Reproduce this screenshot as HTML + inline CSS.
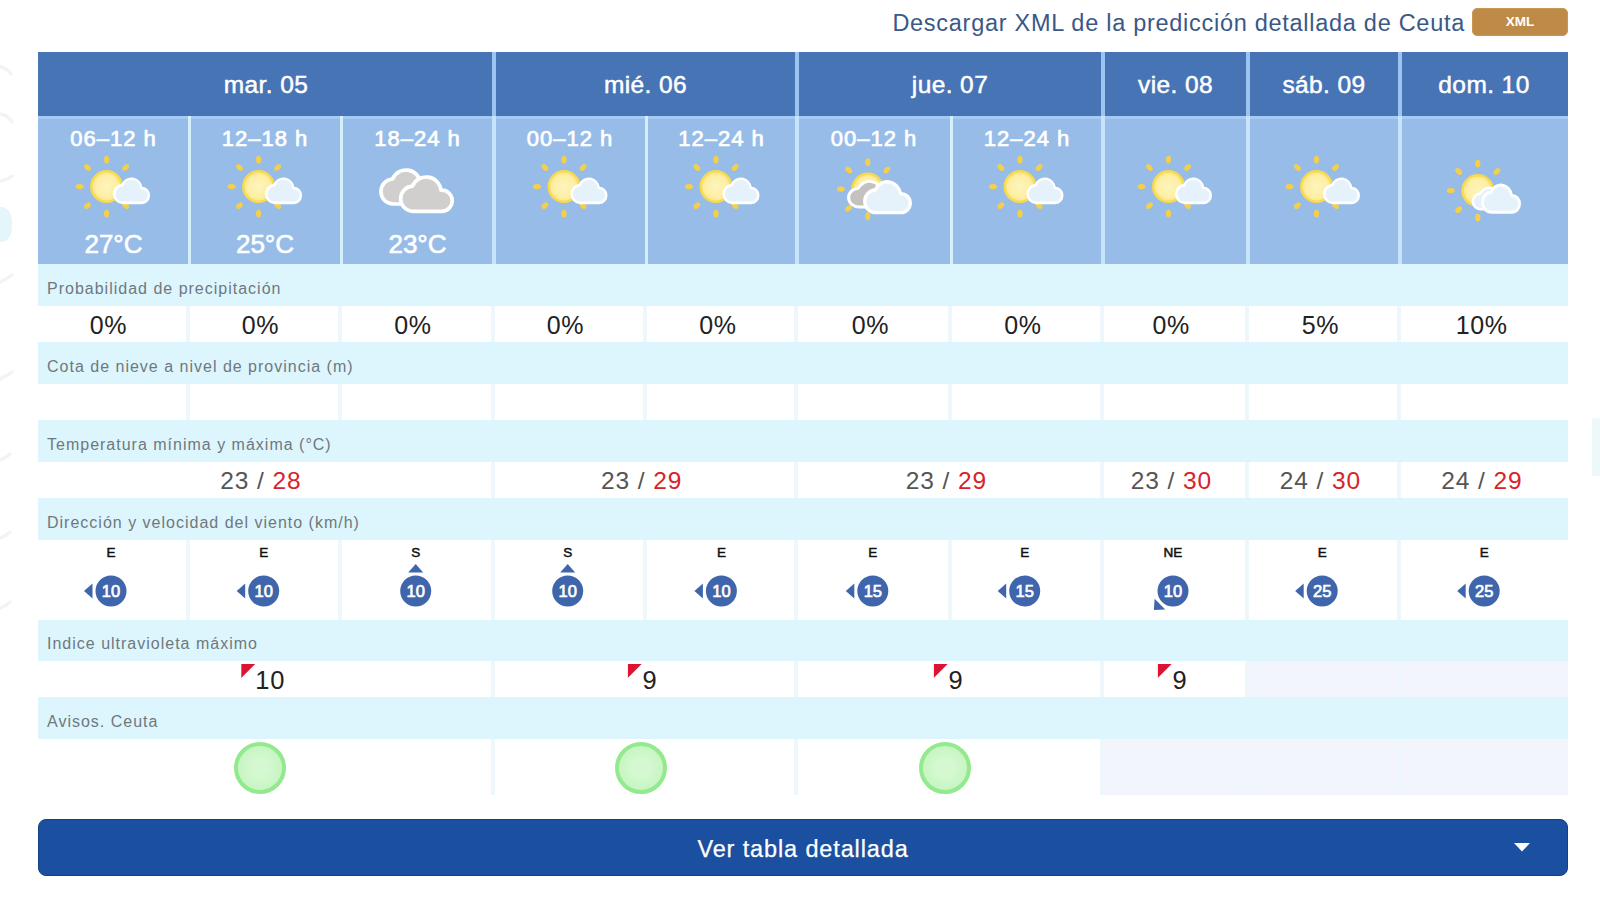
<!DOCTYPE html>
<html lang="es"><head><meta charset="utf-8"><title>Predicción Ceuta</title>
<style>
html,body{margin:0;padding:0;}
body{width:1600px;height:900px;position:relative;overflow:hidden;background:#fff;font-family:"Liberation Sans",sans-serif;}
.a{position:absolute;}
.lnk{right:135px;top:8px;font-size:23.5px;letter-spacing:.72px;color:#3a5888;white-space:nowrap;line-height:30px;}
.xml{left:1472px;top:8px;width:94px;height:26px;background:#bd8a48;border:1px solid #c9974f;border-radius:5px;color:#fff;font-size:13.5px;font-weight:bold;line-height:26px;text-align:center;}
.hd{background:#4774b5;color:#fff;font-size:24.5px;letter-spacing:.4px;-webkit-text-stroke:.5px #fff;text-align:center;top:52px;height:64px;line-height:66px;}
.pd{background:#97bce8;top:116px;height:148px;color:#fff;text-align:center;}
.pd .t{position:absolute;left:0;right:0;top:9px;font-size:22px;line-height:28px;letter-spacing:1px;-webkit-text-stroke:.7px #fff;}
.pd .c{position:absolute;left:0;right:0;top:112px;font-size:26px;line-height:32px;-webkit-text-stroke:.6px #fff;}
.pd svg{position:absolute;left:0;top:0;}
.lb{left:38px;width:1530px;background:#ddf6fe;color:#6f787d;font-size:16px;letter-spacing:1px;}
.lb span{position:absolute;left:9px;top:50%;margin-top:-6.3px;line-height:20px;white-space:nowrap;}
.v{background:#fff;text-align:center;color:#222;}
.g{background:#f3f5fc;}
.sep{background:#eef7fb;width:4px;}
.p{font-size:25px;line-height:39px;letter-spacing:.6px;}
.mm{font-size:24.5px;line-height:38px;color:#555;letter-spacing:.9px;}
.mm b{font-weight:normal;color:#d8232a;}
.wl{position:absolute;top:5px;font-size:13.5px;-webkit-text-stroke:.5px #111;line-height:16px;color:#111;text-align:center;}
.uv{font-size:25.5px;line-height:39px;letter-spacing:.9px;}
.btn{left:38px;top:819px;width:1528px;height:55px;background:#1b4f9f;border:1px solid #153f86;border-radius:8px;color:#fff;font-size:23.5px;letter-spacing:.87px;line-height:59px;text-align:center;-webkit-text-stroke:.25px #fff;}
</style></head><body>

<svg width="0" height="0" style="position:absolute"><defs><radialGradient id="sg"><stop offset="0" stop-color="#fef4bd"/><stop offset=".72" stop-color="#fdefa5"/><stop offset="1" stop-color="#fbe47c"/></radialGradient></defs></svg>
<svg class="a" style="left:0;top:0" width="40" height="900"><path d="M0 207C8 206 13 214 12 226C12 236 8 242 0 242Z" fill="#e0f5f9" opacity=".85"/><g stroke="#f1f4f6" stroke-width="3.5" fill="none" stroke-linecap="round"><path d="M0 67Q7 68 11 74"/><path d="M0 114Q8 115 12 122"/><path d="M0 181Q7 180 12 176"/><path d="M0 282Q7 279 12 275"/><path d="M0 379Q7 376 12 372"/><path d="M0 460Q6 458 10 454"/><path d="M0 538Q6 536 10 532"/><path d="M0 608Q6 606 10 602"/></g></svg>
<div class="a" style="left:1592px;top:418px;width:8px;height:58px;background:#edf8fb;border-radius:3px 0 0 3px"></div>
<div class="a lnk">Descargar XML de la predicción detallada de Ceuta</div>
<div class="a xml">XML</div>
<div class="a hd" style="left:38px;width:456px">mar. 05</div>
<div class="a hd" style="left:494px;width:303px">mié. 06</div>
<div class="a hd" style="left:797px;width:306px">jue. 07</div>
<div class="a hd" style="left:1103px;width:145px">vie. 08</div>
<div class="a hd" style="left:1248px;width:152px">sáb. 09</div>
<div class="a hd" style="left:1400px;width:168px">dom. 10</div>
<div class="a pd" style="left:38px;width:151px">
<div class="t">06–12 h</div>
<svg width="151" height="148" viewBox="0 0 151 148"><g transform="translate(68.6 70.6)"><g fill="#f6cf48"><ellipse cx="0" cy="-27" rx="2.6" ry="3.9" transform="rotate(0)"/><ellipse cx="0" cy="-27" rx="2.6" ry="3.9" transform="rotate(45)"/><ellipse cx="0" cy="-27" rx="2.6" ry="3.9" transform="rotate(90)"/><ellipse cx="0" cy="-27" rx="2.6" ry="3.9" transform="rotate(135)"/><ellipse cx="0" cy="-27" rx="2.6" ry="3.9" transform="rotate(180)"/><ellipse cx="0" cy="-27" rx="2.6" ry="3.9" transform="rotate(225)"/><ellipse cx="0" cy="-27" rx="2.6" ry="3.9" transform="rotate(270)"/><ellipse cx="0" cy="-27" rx="2.6" ry="3.9" transform="rotate(315)"/></g><circle r="15.3" fill="url(#sg)" stroke="#f8d950" stroke-width="2.4"/></g><path transform="translate(75.0 61.3) scale(0.670 0.711)" d="M14.5 36H43.0A10.5 10.5 0 1 0 42.37 15.02A15 15 0 0 0 13.74 11.02A12.5 12.5 0 0 0 14.5 36Z" fill="#e6f2fb" stroke="#fff" stroke-width="3.7" stroke-linejoin="round"/></svg>
<div class="c">27°C</div>
</div>
<div class="a pd" style="left:189px;width:152px">
<div class="t">12–18 h</div>
<svg width="152" height="148" viewBox="0 0 152 148"><g transform="translate(69.6 70.6)"><g fill="#f6cf48"><ellipse cx="0" cy="-27" rx="2.6" ry="3.9" transform="rotate(0)"/><ellipse cx="0" cy="-27" rx="2.6" ry="3.9" transform="rotate(45)"/><ellipse cx="0" cy="-27" rx="2.6" ry="3.9" transform="rotate(90)"/><ellipse cx="0" cy="-27" rx="2.6" ry="3.9" transform="rotate(135)"/><ellipse cx="0" cy="-27" rx="2.6" ry="3.9" transform="rotate(180)"/><ellipse cx="0" cy="-27" rx="2.6" ry="3.9" transform="rotate(225)"/><ellipse cx="0" cy="-27" rx="2.6" ry="3.9" transform="rotate(270)"/><ellipse cx="0" cy="-27" rx="2.6" ry="3.9" transform="rotate(315)"/></g><circle r="15.3" fill="url(#sg)" stroke="#f8d950" stroke-width="2.4"/></g><path transform="translate(76.0 61.3) scale(0.670 0.711)" d="M14.5 36H43.0A10.5 10.5 0 1 0 42.37 15.02A15 15 0 0 0 13.74 11.02A12.5 12.5 0 0 0 14.5 36Z" fill="#e6f2fb" stroke="#fff" stroke-width="3.7" stroke-linejoin="round"/></svg>
<div class="c">25°C</div>
</div>
<div class="a pd" style="left:341px;width:153px">
<div class="t">18–24 h</div>
<svg width="153" height="148" viewBox="0 0 153 148"><path transform="translate(38.0 52.0) scale(0.982 1.000)" d="M14.5 36H43.0A10.5 10.5 0 1 0 42.37 15.02A15 15 0 0 0 13.74 11.02A12.5 12.5 0 0 0 14.5 36Z" fill="#d0cfcd" stroke="#fff" stroke-width="3.7" stroke-linejoin="round"/><path transform="translate(57.7 59.0) scale(1.000 1.008)" d="M14.5 36H43.0A10.5 10.5 0 1 0 42.37 15.02A15 15 0 0 0 13.74 11.02A12.5 12.5 0 0 0 14.5 36Z" fill="#d0cfcd" stroke="#fff" stroke-width="3.7" stroke-linejoin="round"/></svg>
<div class="c">23°C</div>
</div>
<div class="a pd" style="left:494px;width:152px">
<div class="t">00–12 h</div>
<svg width="152" height="148" viewBox="0 0 152 148"><g transform="translate(70.0 70.6)"><g fill="#f6cf48"><ellipse cx="0" cy="-27" rx="2.6" ry="3.9" transform="rotate(0)"/><ellipse cx="0" cy="-27" rx="2.6" ry="3.9" transform="rotate(45)"/><ellipse cx="0" cy="-27" rx="2.6" ry="3.9" transform="rotate(90)"/><ellipse cx="0" cy="-27" rx="2.6" ry="3.9" transform="rotate(135)"/><ellipse cx="0" cy="-27" rx="2.6" ry="3.9" transform="rotate(180)"/><ellipse cx="0" cy="-27" rx="2.6" ry="3.9" transform="rotate(225)"/><ellipse cx="0" cy="-27" rx="2.6" ry="3.9" transform="rotate(270)"/><ellipse cx="0" cy="-27" rx="2.6" ry="3.9" transform="rotate(315)"/></g><circle r="15.3" fill="url(#sg)" stroke="#f8d950" stroke-width="2.4"/></g><path transform="translate(76.4 61.3) scale(0.670 0.711)" d="M14.5 36H43.0A10.5 10.5 0 1 0 42.37 15.02A15 15 0 0 0 13.74 11.02A12.5 12.5 0 0 0 14.5 36Z" fill="#e6f2fb" stroke="#fff" stroke-width="3.7" stroke-linejoin="round"/></svg>
</div>
<div class="a pd" style="left:646px;width:151px">
<div class="t">12–24 h</div>
<svg width="151" height="148" viewBox="0 0 151 148"><g transform="translate(70.0 70.6)"><g fill="#f6cf48"><ellipse cx="0" cy="-27" rx="2.6" ry="3.9" transform="rotate(0)"/><ellipse cx="0" cy="-27" rx="2.6" ry="3.9" transform="rotate(45)"/><ellipse cx="0" cy="-27" rx="2.6" ry="3.9" transform="rotate(90)"/><ellipse cx="0" cy="-27" rx="2.6" ry="3.9" transform="rotate(135)"/><ellipse cx="0" cy="-27" rx="2.6" ry="3.9" transform="rotate(180)"/><ellipse cx="0" cy="-27" rx="2.6" ry="3.9" transform="rotate(225)"/><ellipse cx="0" cy="-27" rx="2.6" ry="3.9" transform="rotate(270)"/><ellipse cx="0" cy="-27" rx="2.6" ry="3.9" transform="rotate(315)"/></g><circle r="15.3" fill="url(#sg)" stroke="#f8d950" stroke-width="2.4"/></g><path transform="translate(76.4 61.3) scale(0.670 0.711)" d="M14.5 36H43.0A10.5 10.5 0 1 0 42.37 15.02A15 15 0 0 0 13.74 11.02A12.5 12.5 0 0 0 14.5 36Z" fill="#e6f2fb" stroke="#fff" stroke-width="3.7" stroke-linejoin="round"/></svg>
</div>
<div class="a pd" style="left:797px;width:154px">
<div class="t">00–12 h</div>
<svg width="154" height="148" viewBox="0 0 154 148"><g transform="translate(70.8 73.1)"><g fill="#f6cf48"><ellipse cx="0" cy="-27" rx="2.6" ry="3.9" transform="rotate(0)"/><ellipse cx="0" cy="-27" rx="2.6" ry="3.9" transform="rotate(45)"/><ellipse cx="0" cy="-27" rx="2.6" ry="3.9" transform="rotate(90)"/><ellipse cx="0" cy="-27" rx="2.6" ry="3.9" transform="rotate(135)"/><ellipse cx="0" cy="-27" rx="2.6" ry="3.9" transform="rotate(180)"/><ellipse cx="0" cy="-27" rx="2.6" ry="3.9" transform="rotate(225)"/><ellipse cx="0" cy="-27" rx="2.6" ry="3.9" transform="rotate(270)"/><ellipse cx="0" cy="-27" rx="2.6" ry="3.9" transform="rotate(315)"/></g><circle r="15.3" fill="url(#sg)" stroke="#f8d950" stroke-width="2.4"/></g><path transform="translate(50.0 64.0) scale(0.821 0.750)" d="M14.5 36H43.0A10.5 10.5 0 1 0 42.37 15.02A15 15 0 0 0 13.74 11.02A12.5 12.5 0 0 0 14.5 36Z" fill="#c4c2c0" stroke="#fff" stroke-width="3.7" stroke-linejoin="round"/><path transform="translate(66.0 64.0) scale(0.884 0.908)" d="M14.5 36H43.0A10.5 10.5 0 1 0 42.37 15.02A15 15 0 0 0 13.74 11.02A12.5 12.5 0 0 0 14.5 36Z" fill="#e6f2fb" stroke="#fff" stroke-width="3.7" stroke-linejoin="round"/></svg>
</div>
<div class="a pd" style="left:951px;width:152px">
<div class="t">12–24 h</div>
<svg width="152" height="148" viewBox="0 0 152 148"><g transform="translate(69.0 70.6)"><g fill="#f6cf48"><ellipse cx="0" cy="-27" rx="2.6" ry="3.9" transform="rotate(0)"/><ellipse cx="0" cy="-27" rx="2.6" ry="3.9" transform="rotate(45)"/><ellipse cx="0" cy="-27" rx="2.6" ry="3.9" transform="rotate(90)"/><ellipse cx="0" cy="-27" rx="2.6" ry="3.9" transform="rotate(135)"/><ellipse cx="0" cy="-27" rx="2.6" ry="3.9" transform="rotate(180)"/><ellipse cx="0" cy="-27" rx="2.6" ry="3.9" transform="rotate(225)"/><ellipse cx="0" cy="-27" rx="2.6" ry="3.9" transform="rotate(270)"/><ellipse cx="0" cy="-27" rx="2.6" ry="3.9" transform="rotate(315)"/></g><circle r="15.3" fill="url(#sg)" stroke="#f8d950" stroke-width="2.4"/></g><path transform="translate(75.4 61.3) scale(0.670 0.711)" d="M14.5 36H43.0A10.5 10.5 0 1 0 42.37 15.02A15 15 0 0 0 13.74 11.02A12.5 12.5 0 0 0 14.5 36Z" fill="#e6f2fb" stroke="#fff" stroke-width="3.7" stroke-linejoin="round"/></svg>
</div>
<div class="a pd" style="left:1103px;width:145px">
<svg width="145" height="148" viewBox="0 0 145 148"><g transform="translate(65.5 70.6)"><g fill="#f6cf48"><ellipse cx="0" cy="-27" rx="2.6" ry="3.9" transform="rotate(0)"/><ellipse cx="0" cy="-27" rx="2.6" ry="3.9" transform="rotate(45)"/><ellipse cx="0" cy="-27" rx="2.6" ry="3.9" transform="rotate(90)"/><ellipse cx="0" cy="-27" rx="2.6" ry="3.9" transform="rotate(135)"/><ellipse cx="0" cy="-27" rx="2.6" ry="3.9" transform="rotate(180)"/><ellipse cx="0" cy="-27" rx="2.6" ry="3.9" transform="rotate(225)"/><ellipse cx="0" cy="-27" rx="2.6" ry="3.9" transform="rotate(270)"/><ellipse cx="0" cy="-27" rx="2.6" ry="3.9" transform="rotate(315)"/></g><circle r="15.3" fill="url(#sg)" stroke="#f8d950" stroke-width="2.4"/></g><path transform="translate(71.9 61.3) scale(0.670 0.711)" d="M14.5 36H43.0A10.5 10.5 0 1 0 42.37 15.02A15 15 0 0 0 13.74 11.02A12.5 12.5 0 0 0 14.5 36Z" fill="#e6f2fb" stroke="#fff" stroke-width="3.7" stroke-linejoin="round"/></svg>
</div>
<div class="a pd" style="left:1248px;width:152px">
<svg width="152" height="148" viewBox="0 0 152 148"><g transform="translate(68.5 70.6)"><g fill="#f6cf48"><ellipse cx="0" cy="-27" rx="2.6" ry="3.9" transform="rotate(0)"/><ellipse cx="0" cy="-27" rx="2.6" ry="3.9" transform="rotate(45)"/><ellipse cx="0" cy="-27" rx="2.6" ry="3.9" transform="rotate(90)"/><ellipse cx="0" cy="-27" rx="2.6" ry="3.9" transform="rotate(135)"/><ellipse cx="0" cy="-27" rx="2.6" ry="3.9" transform="rotate(180)"/><ellipse cx="0" cy="-27" rx="2.6" ry="3.9" transform="rotate(225)"/><ellipse cx="0" cy="-27" rx="2.6" ry="3.9" transform="rotate(270)"/><ellipse cx="0" cy="-27" rx="2.6" ry="3.9" transform="rotate(315)"/></g><circle r="15.3" fill="url(#sg)" stroke="#f8d950" stroke-width="2.4"/></g><path transform="translate(74.9 61.3) scale(0.670 0.711)" d="M14.5 36H43.0A10.5 10.5 0 1 0 42.37 15.02A15 15 0 0 0 13.74 11.02A12.5 12.5 0 0 0 14.5 36Z" fill="#e6f2fb" stroke="#fff" stroke-width="3.7" stroke-linejoin="round"/></svg>
</div>
<div class="a pd" style="left:1400px;width:168px">
<svg width="168" height="148" viewBox="0 0 168 148"><g transform="translate(77.8 74.6)"><g fill="#f6cf48"><ellipse cx="0" cy="-27" rx="2.6" ry="3.9" transform="rotate(0)"/><ellipse cx="0" cy="-27" rx="2.6" ry="3.9" transform="rotate(45)"/><ellipse cx="0" cy="-27" rx="2.6" ry="3.9" transform="rotate(90)"/><ellipse cx="0" cy="-27" rx="2.6" ry="3.9" transform="rotate(135)"/><ellipse cx="0" cy="-27" rx="2.6" ry="3.9" transform="rotate(180)"/><ellipse cx="0" cy="-27" rx="2.6" ry="3.9" transform="rotate(225)"/><ellipse cx="0" cy="-27" rx="2.6" ry="3.9" transform="rotate(270)"/><ellipse cx="0" cy="-27" rx="2.6" ry="3.9" transform="rotate(315)"/></g><circle r="15.3" fill="url(#sg)" stroke="#f8d950" stroke-width="2.4"/></g><path transform="translate(71.5 70.5) scale(0.661 0.632)" d="M14.5 36H43.0A10.5 10.5 0 1 0 42.37 15.02A15 15 0 0 0 13.74 11.02A12.5 12.5 0 0 0 14.5 36Z" fill="#e6f2fb" stroke="#fff" stroke-width="3.7" stroke-linejoin="round"/><path transform="translate(81.0 67.5) scale(0.723 0.797)" d="M14.5 36H43.0A10.5 10.5 0 1 0 42.37 15.02A15 15 0 0 0 13.74 11.02A12.5 12.5 0 0 0 14.5 36Z" fill="#e6f2fb" stroke="#fff" stroke-width="3.7" stroke-linejoin="round"/></svg>
</div>
<div class="a" style="left:38px;top:116px;width:1530px;height:3px;background:#a6caf6"></div>
<div class="a lb" style="top:264px;height:42px"><span>Probabilidad de precipitación</span></div>
<div class="a lb" style="top:342px;height:42px"><span>Cota de nieve a nivel de provincia (m)</span></div>
<div class="a lb" style="top:420px;height:42px"><span>Temperatura mínima y máxima (°C)</span></div>
<div class="a lb" style="top:498px;height:42px"><span>Dirección y velocidad del viento (km/h)</span></div>
<div class="a lb" style="top:620px;height:41px"><span>Indice ultravioleta máximo</span></div>
<div class="a lb" style="top:697px;height:42px"><span>Avisos. Ceuta</span></div>
<div class="a v p" style="left:38px;width:151px;top:306px;height:36px"><span class="a" style="left:70.40px;top:0;transform:translateX(-50%);white-space:nowrap">0%</span></div>
<div class="a v p" style="left:189px;width:152px;top:306px;height:36px"><span class="a" style="left:71.30px;top:0;transform:translateX(-50%);white-space:nowrap">0%</span></div>
<div class="a v p" style="left:341px;width:153px;top:306px;height:36px"><span class="a" style="left:71.80px;top:0;transform:translateX(-50%);white-space:nowrap">0%</span></div>
<div class="a v p" style="left:494px;width:152px;top:306px;height:36px"><span class="a" style="left:71.30px;top:0;transform:translateX(-50%);white-space:nowrap">0%</span></div>
<div class="a v p" style="left:646px;width:151px;top:306px;height:36px"><span class="a" style="left:71.80px;top:0;transform:translateX(-50%);white-space:nowrap">0%</span></div>
<div class="a v p" style="left:797px;width:154px;top:306px;height:36px"><span class="a" style="left:73.30px;top:0;transform:translateX(-50%);white-space:nowrap">0%</span></div>
<div class="a v p" style="left:951px;width:152px;top:306px;height:36px"><span class="a" style="left:71.80px;top:0;transform:translateX(-50%);white-space:nowrap">0%</span></div>
<div class="a v p" style="left:1103px;width:145px;top:306px;height:36px"><span class="a" style="left:68.05px;top:0;transform:translateX(-50%);white-space:nowrap">0%</span></div>
<div class="a v p" style="left:1248px;width:152px;top:306px;height:36px"><span class="a" style="left:72.30px;top:0;transform:translateX(-50%);white-space:nowrap">5%</span></div>
<div class="a v p" style="left:1400px;width:168px;top:306px;height:36px"><span class="a" style="left:81.55px;top:0;transform:translateX(-50%);white-space:nowrap">10%</span></div>
<div class="a v " style="left:38px;width:151px;top:384px;height:36px"></div>
<div class="a v " style="left:189px;width:152px;top:384px;height:36px"></div>
<div class="a v " style="left:341px;width:153px;top:384px;height:36px"></div>
<div class="a v " style="left:494px;width:152px;top:384px;height:36px"></div>
<div class="a v " style="left:646px;width:151px;top:384px;height:36px"></div>
<div class="a v " style="left:797px;width:154px;top:384px;height:36px"></div>
<div class="a v " style="left:951px;width:152px;top:384px;height:36px"></div>
<div class="a v " style="left:1103px;width:145px;top:384px;height:36px"></div>
<div class="a v " style="left:1248px;width:152px;top:384px;height:36px"></div>
<div class="a v " style="left:1400px;width:168px;top:384px;height:36px"></div>
<div class="a v mm" style="left:38px;width:456px;top:462px;height:36px"><span class="a" style="left:222.95px;top:0;transform:translateX(-50%);white-space:nowrap">23 / <b>28</b></span></div>
<div class="a v mm" style="left:494px;width:303px;top:462px;height:36px"><span class="a" style="left:147.70px;top:0;transform:translateX(-50%);white-space:nowrap">23 / <b>29</b></span></div>
<div class="a v mm" style="left:797px;width:306px;top:462px;height:36px"><span class="a" style="left:149.45px;top:0;transform:translateX(-50%);white-space:nowrap">23 / <b>29</b></span></div>
<div class="a v mm" style="left:1103px;width:145px;top:462px;height:36px"><span class="a" style="left:68.45px;top:0;transform:translateX(-50%);white-space:nowrap">23 / <b>30</b></span></div>
<div class="a v mm" style="left:1248px;width:152px;top:462px;height:36px"><span class="a" style="left:72.45px;top:0;transform:translateX(-50%);white-space:nowrap">24 / <b>30</b></span></div>
<div class="a v mm" style="left:1400px;width:168px;top:462px;height:36px"><span class="a" style="left:81.95px;top:0;transform:translateX(-50%);white-space:nowrap">24 / <b>29</b></span></div>
<div class="a v " style="left:38px;width:151px;top:540px;height:80px"><div class="wl" style="left:23.0px;width:100px;right:auto">E</div><svg class="a" style="left:0;top:0" width="151" height="80" viewBox="0 0 151 80"><g transform="translate(73 51)"><g transform="rotate(0)"><path d="M-27 0L-18.5 -7.5V7.5Z" fill="#3f66ac"/></g><circle r="15.5" fill="#3f66ac"/><text x="0" y="5.8" text-anchor="middle" font-size="16.5" stroke="#fff" stroke-width=".7" fill="#fff" font-family="Liberation Sans, sans-serif">10</text></g></svg></div>
<div class="a v " style="left:189px;width:152px;top:540px;height:80px"><div class="wl" style="left:24.7px;width:100px;right:auto">E</div><svg class="a" style="left:0;top:0" width="152" height="80" viewBox="0 0 152 80"><g transform="translate(74.69999999999999 51)"><g transform="rotate(0)"><path d="M-27 0L-18.5 -7.5V7.5Z" fill="#3f66ac"/></g><circle r="15.5" fill="#3f66ac"/><text x="0" y="5.8" text-anchor="middle" font-size="16.5" stroke="#fff" stroke-width=".7" fill="#fff" font-family="Liberation Sans, sans-serif">10</text></g></svg></div>
<div class="a v " style="left:341px;width:153px;top:540px;height:80px"><div class="wl" style="left:24.7px;width:100px;right:auto">S</div><svg class="a" style="left:0;top:0" width="153" height="80" viewBox="0 0 153 80"><g transform="translate(74.69999999999999 51)"><g transform="rotate(90)"><path d="M-27 0L-18.5 -7.5V7.5Z" fill="#3f66ac"/></g><circle r="15.5" fill="#3f66ac"/><text x="0" y="5.8" text-anchor="middle" font-size="16.5" stroke="#fff" stroke-width=".7" fill="#fff" font-family="Liberation Sans, sans-serif">10</text></g></svg></div>
<div class="a v " style="left:494px;width:152px;top:540px;height:80px"><div class="wl" style="left:23.7px;width:100px;right:auto">S</div><svg class="a" style="left:0;top:0" width="152" height="80" viewBox="0 0 152 80"><g transform="translate(73.70000000000005 51)"><g transform="rotate(90)"><path d="M-27 0L-18.5 -7.5V7.5Z" fill="#3f66ac"/></g><circle r="15.5" fill="#3f66ac"/><text x="0" y="5.8" text-anchor="middle" font-size="16.5" stroke="#fff" stroke-width=".7" fill="#fff" font-family="Liberation Sans, sans-serif">10</text></g></svg></div>
<div class="a v " style="left:646px;width:151px;top:540px;height:80px"><div class="wl" style="left:25.4px;width:100px;right:auto">E</div><svg class="a" style="left:0;top:0" width="151" height="80" viewBox="0 0 151 80"><g transform="translate(75.39999999999998 51)"><g transform="rotate(0)"><path d="M-27 0L-18.5 -7.5V7.5Z" fill="#3f66ac"/></g><circle r="15.5" fill="#3f66ac"/><text x="0" y="5.8" text-anchor="middle" font-size="16.5" stroke="#fff" stroke-width=".7" fill="#fff" font-family="Liberation Sans, sans-serif">10</text></g></svg></div>
<div class="a v " style="left:797px;width:154px;top:540px;height:80px"><div class="wl" style="left:25.8px;width:100px;right:auto">E</div><svg class="a" style="left:0;top:0" width="154" height="80" viewBox="0 0 154 80"><g transform="translate(75.79999999999995 51)"><g transform="rotate(0)"><path d="M-27 0L-18.5 -7.5V7.5Z" fill="#3f66ac"/></g><circle r="15.5" fill="#3f66ac"/><text x="0" y="5.8" text-anchor="middle" font-size="16.5" stroke="#fff" stroke-width=".7" fill="#fff" font-family="Liberation Sans, sans-serif">15</text></g></svg></div>
<div class="a v " style="left:951px;width:152px;top:540px;height:80px"><div class="wl" style="left:23.7px;width:100px;right:auto">E</div><svg class="a" style="left:0;top:0" width="152" height="80" viewBox="0 0 152 80"><g transform="translate(73.70000000000005 51)"><g transform="rotate(0)"><path d="M-27 0L-18.5 -7.5V7.5Z" fill="#3f66ac"/></g><circle r="15.5" fill="#3f66ac"/><text x="0" y="5.8" text-anchor="middle" font-size="16.5" stroke="#fff" stroke-width=".7" fill="#fff" font-family="Liberation Sans, sans-serif">15</text></g></svg></div>
<div class="a v " style="left:1103px;width:145px;top:540px;height:80px"><div class="wl" style="left:20.0px;width:100px;right:auto">NE</div><svg class="a" style="left:0;top:0" width="145" height="80" viewBox="0 0 145 80"><g transform="translate(70 51)"><g transform="rotate(-45)"><path d="M-27 0L-18.5 -7.5V7.5Z" fill="#3f66ac"/></g><circle r="15.5" fill="#3f66ac"/><text x="0" y="5.8" text-anchor="middle" font-size="16.5" stroke="#fff" stroke-width=".7" fill="#fff" font-family="Liberation Sans, sans-serif">10</text></g></svg></div>
<div class="a v " style="left:1248px;width:152px;top:540px;height:80px"><div class="wl" style="left:24.2px;width:100px;right:auto">E</div><svg class="a" style="left:0;top:0" width="152" height="80" viewBox="0 0 152 80"><g transform="translate(74.20000000000005 51)"><g transform="rotate(0)"><path d="M-27 0L-18.5 -7.5V7.5Z" fill="#3f66ac"/></g><circle r="15.5" fill="#3f66ac"/><text x="0" y="5.8" text-anchor="middle" font-size="16.5" stroke="#fff" stroke-width=".7" fill="#fff" font-family="Liberation Sans, sans-serif">25</text></g></svg></div>
<div class="a v " style="left:1400px;width:168px;top:540px;height:80px"><div class="wl" style="left:34.2px;width:100px;right:auto">E</div><svg class="a" style="left:0;top:0" width="168" height="80" viewBox="0 0 168 80"><g transform="translate(84.20000000000005 51)"><g transform="rotate(0)"><path d="M-27 0L-18.5 -7.5V7.5Z" fill="#3f66ac"/></g><circle r="15.5" fill="#3f66ac"/><text x="0" y="5.8" text-anchor="middle" font-size="16.5" stroke="#fff" stroke-width=".7" fill="#fff" font-family="Liberation Sans, sans-serif">25</text></g></svg></div>
<div class="a v uv" style="left:38px;width:456px;top:661px;height:36px"><span class="a" style="left:225.55px;top:0;transform:translateX(-50%);white-space:nowrap;padding-left:13.5px"><svg class="a" style="left:-1px;top:3px" width="14" height="14"><path d="M0 0H14L0 14Z" fill="#dc1431"/></svg>10</span></div>
<div class="a v uv" style="left:494px;width:303px;top:661px;height:36px"><span class="a" style="left:149.20px;top:0;transform:translateX(-50%);white-space:nowrap;padding-left:13.5px"><svg class="a" style="left:-1px;top:3px" width="14" height="14"><path d="M0 0H14L0 14Z" fill="#dc1431"/></svg>9</span></div>
<div class="a v uv" style="left:797px;width:306px;top:661px;height:36px"><span class="a" style="left:152.20px;top:0;transform:translateX(-50%);white-space:nowrap;padding-left:13.5px"><svg class="a" style="left:-1px;top:3px" width="14" height="14"><path d="M0 0H14L0 14Z" fill="#dc1431"/></svg>9</span></div>
<div class="a v uv" style="left:1103px;width:145px;top:661px;height:36px"><span class="a" style="left:70.20px;top:0;transform:translateX(-50%);white-space:nowrap;padding-left:13.5px"><svg class="a" style="left:-1px;top:3px" width="14" height="14"><path d="M0 0H14L0 14Z" fill="#dc1431"/></svg>9</span></div>
<div class="a v g" style="left:1248px;width:152px;top:661px;height:36px"></div>
<div class="a v g" style="left:1400px;width:168px;top:661px;height:36px"></div>
<div class="a v " style="left:38px;width:456px;top:739px;height:56px"><div class="a" style="left:196.00px;top:3px;width:44px;height:44px;border-radius:50%;border:4px solid #93ea8e;background:radial-gradient(circle,#d4f8d0 30%,#bdf3b8 100%)"></div></div>
<div class="a v " style="left:494px;width:303px;top:739px;height:56px"><div class="a" style="left:120.75px;top:3px;width:44px;height:44px;border-radius:50%;border:4px solid #93ea8e;background:radial-gradient(circle,#d4f8d0 30%,#bdf3b8 100%)"></div></div>
<div class="a v " style="left:797px;width:306px;top:739px;height:56px"><div class="a" style="left:121.50px;top:3px;width:44px;height:44px;border-radius:50%;border:4px solid #93ea8e;background:radial-gradient(circle,#d4f8d0 30%,#bdf3b8 100%)"></div></div>
<div class="a v g" style="left:1103px;width:145px;top:739px;height:56px"></div>
<div class="a v g" style="left:1248px;width:152px;top:739px;height:56px"></div>
<div class="a v g" style="left:1400px;width:168px;top:739px;height:56px"></div>
<div class="a sep" style="left:186px;top:306px;height:36px"></div>
<div class="a sep" style="left:338px;top:306px;height:36px"></div>
<div class="a sep" style="left:491px;top:306px;height:36px"></div>
<div class="a sep" style="left:643px;top:306px;height:36px"></div>
<div class="a sep" style="left:794px;top:306px;height:36px"></div>
<div class="a sep" style="left:948px;top:306px;height:36px"></div>
<div class="a sep" style="left:1100px;top:306px;height:36px"></div>
<div class="a sep" style="left:1245px;top:306px;height:36px"></div>
<div class="a sep" style="left:1397px;top:306px;height:36px"></div>
<div class="a sep" style="left:186px;top:384px;height:36px"></div>
<div class="a sep" style="left:338px;top:384px;height:36px"></div>
<div class="a sep" style="left:491px;top:384px;height:36px"></div>
<div class="a sep" style="left:643px;top:384px;height:36px"></div>
<div class="a sep" style="left:794px;top:384px;height:36px"></div>
<div class="a sep" style="left:948px;top:384px;height:36px"></div>
<div class="a sep" style="left:1100px;top:384px;height:36px"></div>
<div class="a sep" style="left:1245px;top:384px;height:36px"></div>
<div class="a sep" style="left:1397px;top:384px;height:36px"></div>
<div class="a sep" style="left:491px;top:462px;height:36px"></div>
<div class="a sep" style="left:794px;top:462px;height:36px"></div>
<div class="a sep" style="left:1100px;top:462px;height:36px"></div>
<div class="a sep" style="left:1245px;top:462px;height:36px"></div>
<div class="a sep" style="left:1397px;top:462px;height:36px"></div>
<div class="a sep" style="left:186px;top:540px;height:80px"></div>
<div class="a sep" style="left:338px;top:540px;height:80px"></div>
<div class="a sep" style="left:491px;top:540px;height:80px"></div>
<div class="a sep" style="left:643px;top:540px;height:80px"></div>
<div class="a sep" style="left:794px;top:540px;height:80px"></div>
<div class="a sep" style="left:948px;top:540px;height:80px"></div>
<div class="a sep" style="left:1100px;top:540px;height:80px"></div>
<div class="a sep" style="left:1245px;top:540px;height:80px"></div>
<div class="a sep" style="left:1397px;top:540px;height:80px"></div>
<div class="a sep" style="left:491px;top:661px;height:36px"></div>
<div class="a sep" style="left:794px;top:661px;height:36px"></div>
<div class="a sep" style="left:1100px;top:661px;height:36px"></div>
<div class="a sep" style="left:1245px;top:661px;height:36px"></div>
<div class="a sep" style="left:1397px;top:661px;height:36px"></div>
<div class="a sep" style="left:491px;top:739px;height:56px"></div>
<div class="a sep" style="left:794px;top:739px;height:56px"></div>
<div class="a sep" style="left:1100px;top:739px;height:56px"></div>
<div class="a sep" style="left:1245px;top:739px;height:56px"></div>
<div class="a sep" style="left:1397px;top:739px;height:56px"></div>
<div class="a" style="left:187.6px;top:116px;width:3px;height:148px;background:#d6effd"></div>
<div class="a" style="left:339.6px;top:116px;width:3px;height:148px;background:#d6effd"></div>
<div class="a" style="left:492px;top:52px;width:4px;height:64px;background:#9cc4f0"></div>
<div class="a" style="left:492px;top:116px;width:4px;height:148px;background:#c6e4fb"></div>
<div class="a" style="left:644.6px;top:116px;width:3px;height:148px;background:#d6effd"></div>
<div class="a" style="left:795px;top:52px;width:4px;height:64px;background:#9cc4f0"></div>
<div class="a" style="left:795px;top:116px;width:4px;height:148px;background:#c6e4fb"></div>
<div class="a" style="left:949.6px;top:116px;width:3px;height:148px;background:#d6effd"></div>
<div class="a" style="left:1101px;top:52px;width:4px;height:64px;background:#9cc4f0"></div>
<div class="a" style="left:1101px;top:116px;width:4px;height:148px;background:#c6e4fb"></div>
<div class="a" style="left:1246px;top:52px;width:4px;height:64px;background:#9cc4f0"></div>
<div class="a" style="left:1246px;top:116px;width:4px;height:148px;background:#c6e4fb"></div>
<div class="a" style="left:1398px;top:52px;width:4px;height:64px;background:#9cc4f0"></div>
<div class="a" style="left:1398px;top:116px;width:4px;height:148px;background:#c6e4fb"></div>
<div class="a btn">Ver tabla detallada<svg class="a" style="left:1475px;top:23px" width="16" height="9"><path d="M0 0H16L8 8.5Z" fill="#fff"/></svg></div>
</body></html>
